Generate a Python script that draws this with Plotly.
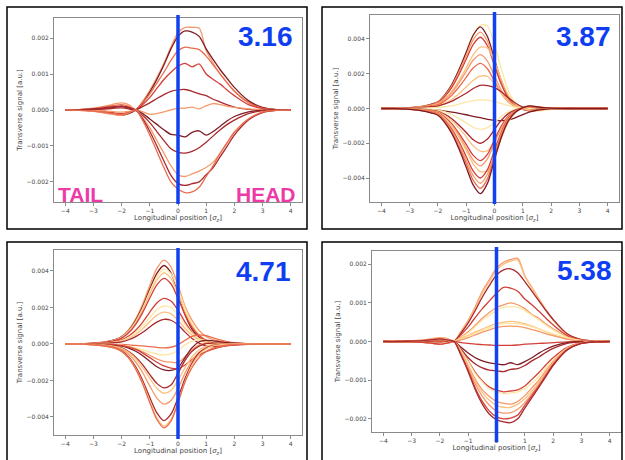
import plotly.graph_objects as go

# Longitudinal positions (sigma_z) at which signals are read
Z = [-4, -3.5, -3, -2.5, -2.25, -2, -1.75, -1.5, -1.25, -1, -0.75, -0.5, -0.25,
     0, 0.25, 0.5, 0.75, 1, 1.25, 1.5, 1.75, 2, 2.5, 3, 3.5, 4]
UNIT = 1e-3  # signal values below are in units of 1e-3 a.u.
LABELS = ["3.16", "3.87", "4.71", "5.38"]
CENTER_Z = 0.0

SIG_316 = [
    [0, 0.01, 0.05, 0.12, 0.17, 0.2, 0.15, 0.02, 0.25, 0.55, 0.9, 1.3, 1.75, 2.15, 2.3, 2.3, 2.28, 1.65, 1.3, 1.0, 0.75, 0.53, 0.22, 0.06, 0.01, 0],
    [0, 0.0, -0.03, -0.08, -0.12, -0.15, -0.1, 0.0, 0.2, 0.5, 0.85, 1.25, 1.7, 2.05, 2.2, 2.17, 2.05, 1.7, 1.4, 1.12, 0.87, 0.63, 0.26, 0.07, 0.01, 0],
    [0, 0.01, 0.04, 0.1, 0.13, 0.15, 0.1, 0.0, 0.2, 0.45, 0.75, 1.05, 1.38, 1.65, 1.75, 1.72, 1.68, 1.5, 1.25, 1.0, 0.75, 0.52, 0.2, 0.05, 0.01, 0],
    [0, 0.0, -0.02, -0.05, -0.08, -0.1, -0.06, 0.0, 0.15, 0.35, 0.6, 0.85, 1.05, 1.22, 1.3, 1.2, 1.28, 1.0, 0.85, 0.72, 0.55, 0.4, 0.15, 0.04, 0.0, 0],
    [0, 0.01, 0.03, 0.07, 0.09, 0.1, 0.06, 0.0, 0.1, 0.2, 0.32, 0.43, 0.52, 0.56, 0.57, 0.52, 0.45, 0.4, 0.3, 0.22, 0.14, 0.08, 0.02, 0.0, 0, 0],
    [0, 0.0, -0.01, -0.03, -0.05, -0.06, -0.04, 0.0, -0.05, -0.12, -0.1, -0.05, 0.0, 0.05, 0.05, 0.08, 0.03, 0.12, 0.18, 0.15, 0.1, 0.07, 0.03, 0.01, 0, 0],
    [0, 0.0, 0.02, 0.05, 0.08, 0.1, 0.06, 0.0, -0.1, -0.25, -0.4, -0.55, -0.68, -0.7, -0.75, -0.62, -0.58, -0.7, -0.6, -0.45, -0.3, -0.18, -0.05, -0.01, 0, 0],
    [0, 0.0, 0.01, 0.03, 0.05, 0.06, 0.03, -0.02, -0.15, -0.35, -0.6, -0.85, -1.08, -1.18, -1.2, -1.15, -1.05, -0.9, -0.72, -0.55, -0.4, -0.28, -0.1, -0.02, 0, 0],
    [0, -0.01, -0.04, -0.1, -0.13, -0.15, -0.08, 0.0, -0.22, -0.5, -0.85, -1.2, -1.55, -1.8, -1.85, -1.78, -1.7, -1.6, -1.45, -1.2, -0.9, -0.62, -0.25, -0.06, -0.01, 0],
    [0, 0.0, 0.02, 0.06, 0.09, 0.11, 0.07, 0.0, -0.25, -0.6, -1.0, -1.42, -1.82, -2.05, -2.1, -2.05, -2.0, -1.8, -1.6, -1.3, -1.0, -0.7, -0.28, -0.07, -0.01, 0],
    [0, -0.01, -0.03, -0.08, -0.11, -0.13, -0.07, 0.0, -0.3, -0.7, -1.15, -1.6, -2.0, -2.2, -2.3, -2.28, -2.15, -1.85, -1.55, -1.2, -0.9, -0.62, -0.25, -0.06, -0.01, 0],
]

SIG_387 = [
    [0, 0.01, 0.05, 0.15, 0.25, 0.39, 0.78, 1.37, 2.21, 3.19, 4.21, 4.8, 4.75, 3.68, 2.21, 0.98, 0.29, 0.0, -0.15, -0.15, -0.1, -0.05, 0, 0, 0, 0],
    [0, 0.01, 0.05, 0.14, 0.24, 0.38, 0.8, 1.41, 2.26, 3.24, 4.23, 4.7, 4.14, 2.82, 1.55, 0.66, 0.19, -0.05, -0.14, -0.09, -0.05, -0.02, 0, 0, 0, 0],
    [0, 0.01, 0.04, 0.13, 0.22, 0.35, 0.75, 1.32, 2.11, 3.04, 3.96, 4.4, 3.87, 2.64, 1.45, 0.62, 0.18, -0.04, -0.13, -0.09, -0.04, -0.02, 0, 0, 0, 0],
    [0, 0.01, 0.04, 0.12, 0.21, 0.33, 0.7, 1.23, 1.97, 2.83, 3.69, 4.1, 3.61, 2.46, 1.35, 0.57, 0.16, -0.04, -0.12, -0.08, -0.04, -0.02, 0, 0, 0, 0],
    [0, 0.01, 0.04, 0.11, 0.18, 0.29, 0.58, 1.01, 1.62, 2.34, 3.1, 3.53, 3.49, 2.7, 1.62, 0.72, 0.22, 0.0, -0.11, -0.11, -0.07, -0.04, 0, 0, 0, 0],
    [0, 0.01, 0.03, 0.09, 0.16, 0.25, 0.53, 0.93, 1.49, 2.14, 2.79, 3.1, 2.73, 1.86, 1.02, 0.43, 0.12, -0.03, -0.09, -0.06, -0.03, -0.02, 0, 0, 0, 0],
    [0, 0.01, 0.03, 0.08, 0.13, 0.21, 0.44, 0.78, 1.25, 1.79, 2.34, 2.6, 2.29, 1.56, 0.86, 0.36, 0.1, -0.03, -0.08, -0.05, -0.03, -0.01, 0, 0, 0, 0],
    [0, 0, 0.02, 0.06, 0.1, 0.15, 0.3, 0.53, 0.86, 1.24, 1.63, 1.86, 1.84, 1.43, 0.86, 0.38, 0.11, 0.0, -0.06, -0.06, -0.04, -0.02, 0, 0, 0, 0],
    [0, 0.01, 0.03, 0.07, 0.1, 0.14, 0.26, 0.42, 0.65, 0.88, 1.15, 1.33, 1.32, 1.2, 0.95, 0.6, 0.3, 0.08, 0.0, -0.02, -0.01, 0, 0, 0, 0, 0],
    [0, 0, 0.01, 0.02, 0.04, 0.06, 0.1, 0.16, 0.25, 0.36, 0.45, 0.5, 0.48, 0.4, 0.28, 0.16, 0.07, 0.02, 0, 0, 0, 0, 0, 0, 0, 0],
    [0, 0, -0.01, -0.04, -0.07, -0.1, -0.15, -0.21, -0.28, -0.36, -0.45, -0.53, -0.62, -0.68, -0.7, -0.65, -0.52, -0.35, -0.2, -0.1, -0.05, -0.02, 0, 0, 0, 0],
    [0, 0, -0.01, -0.04, -0.06, -0.1, -0.2, -0.36, -0.58, -0.83, -1.08, -1.2, -1.1, -0.8, -0.45, -0.18, -0.03, 0.03, 0.03, 0.02, 0.01, 0, 0, 0, 0, 0],
    [0, 0, -0.02, -0.06, -0.1, -0.16, -0.34, -0.6, -0.96, -1.38, -1.8, -2.0, -1.76, -1.2, -0.66, -0.28, -0.08, 0.02, 0.06, 0.04, 0.02, 0.01, 0, 0, 0, 0],
    [0, -0.01, -0.03, -0.08, -0.13, -0.2, -0.4, -0.7, -1.13, -1.63, -2.15, -2.45, -2.43, -1.88, -1.13, -0.5, -0.15, 0.0, 0.08, 0.08, 0.05, 0.03, 0, 0, 0, 0],
    [0, -0.01, -0.03, -0.09, -0.15, -0.24, -0.51, -0.9, -1.44, -2.07, -2.7, -3.0, -2.64, -1.8, -0.99, -0.42, -0.12, 0.03, 0.09, 0.06, 0.03, 0.02, 0, 0, 0, 0],
    [0, -0.01, -0.03, -0.1, -0.17, -0.26, -0.56, -0.99, -1.58, -2.28, -2.97, -3.3, -2.9, -1.98, -1.09, -0.46, -0.13, 0.03, 0.1, 0.07, 0.03, 0.02, 0, 0, 0, 0],
    [0, -0.01, -0.04, -0.11, -0.19, -0.3, -0.59, -1.04, -1.67, -2.41, -3.18, -3.63, -3.59, -2.78, -1.67, -0.74, -0.22, 0.0, 0.11, 0.11, 0.07, 0.04, 0, 0, 0, 0],
    [0, -0.01, -0.04, -0.12, -0.2, -0.32, -0.68, -1.2, -1.92, -2.76, -3.6, -4.0, -3.52, -2.4, -1.32, -0.56, -0.16, 0.04, 0.12, 0.08, 0.04, 0.02, 0, 0, 0, 0],
    [0, -0.01, -0.04, -0.13, -0.22, -0.34, -0.73, -1.29, -2.06, -2.97, -3.87, -4.3, -3.78, -2.58, -1.42, -0.6, -0.17, 0.04, 0.13, 0.09, 0.04, 0.02, 0, 0, 0, 0],
    [0, -0.01, -0.05, -0.14, -0.23, -0.37, -0.78, -1.38, -2.21, -3.17, -4.14, -4.6, -4.05, -2.76, -1.52, -0.64, -0.18, 0.05, 0.14, 0.09, 0.05, 0.02, 0, 0, 0, 0],
    [0, -0.01, -0.05, -0.15, -0.25, -0.39, -0.83, -1.47, -2.35, -3.38, -4.41, -4.9, -4.31, -2.94, -1.62, -0.69, -0.2, 0.05, 0.15, 0.1, 0.05, 0.02, 0, 0, 0, 0],
]

SIG_471 = [
    [0, 0.01, 0.05, 0.14, 0.23, 0.41, 0.78, 1.38, 2.21, 3.22, 4.14, 4.6, 4.23, 3.22, 2.07, 1.29, 0.74, 0.41, 0.23, 0.14, 0.07, 0.04, 0.01, 0, 0, 0],
    [0, 0.01, 0.04, 0.13, 0.22, 0.39, 0.73, 1.29, 2.06, 3.01, 3.87, 4.3, 3.9, 2.8, 1.6, 0.8, 0.35, 0.12, 0.03, 0.0, -0.01, 0, 0, 0, 0, 0],
    [0, 0.01, 0.04, 0.12, 0.2, 0.37, 0.7, 1.23, 1.97, 2.87, 3.69, 4.1, 3.85, 3.0, 1.95, 1.1, 0.5, 0.2, 0.07, 0.02, 0, 0, 0, 0, 0, 0],
    [0, 0.01, 0.04, 0.12, 0.2, 0.35, 0.66, 1.17, 1.87, 2.73, 3.51, 3.9, 3.6, 2.75, 1.75, 1.0, 0.5, 0.22, 0.08, 0.02, 0, 0, 0, 0, 0, 0],
    [0, 0.01, 0.04, 0.11, 0.18, 0.32, 0.61, 1.08, 1.73, 2.52, 3.24, 3.6, 3.3, 2.5, 1.6, 0.9, 0.45, 0.2, 0.08, 0.03, 0.01, 0, 0, 0, 0, 0],
    [0, 0.01, 0.03, 0.08, 0.13, 0.22, 0.43, 0.75, 1.2, 1.75, 2.25, 2.5, 2.35, 1.85, 1.2, 0.65, 0.3, 0.1, 0.02, 0, 0, 0, 0, 0, 0, 0],
    [0, 0, 0.02, 0.06, 0.1, 0.18, 0.36, 0.63, 1.0, 1.45, 1.88, 2.08, 2.0, 1.6, 1.05, 0.6, 0.3, 0.12, 0.04, 0.01, 0, 0, 0, 0, 0, 0],
    [0, 0, 0.02, 0.05, 0.09, 0.15, 0.3, 0.52, 0.84, 1.22, 1.57, 1.74, 1.65, 1.3, 0.85, 0.48, 0.22, 0.08, 0.02, 0, 0, 0, 0, 0, 0, 0],
    [0, 0, 0.01, 0.04, 0.07, 0.12, 0.23, 0.4, 0.64, 0.93, 1.2, 1.35, 1.3, 1.05, 0.65, 0.3, 0.05, -0.1, -0.15, -0.12, -0.08, -0.05, -0.01, 0, 0, 0],
    [0, 0, 0, -0.01, -0.02, -0.03, -0.05, -0.08, -0.11, -0.15, -0.19, -0.22, -0.18, -0.05, 0.2, 0.42, 0.5, 0.45, 0.33, 0.22, 0.13, 0.07, 0.02, 0, 0, 0],
    [0, 0, -0.01, -0.02, -0.04, -0.06, -0.12, -0.2, -0.32, -0.45, -0.55, -0.6, -0.55, -0.35, -0.05, 0.15, 0.22, 0.2, 0.13, 0.08, 0.04, 0.02, 0, 0, 0, 0],
    [0, 0, -0.01, -0.03, -0.05, -0.08, -0.15, -0.27, -0.43, -0.62, -0.82, -0.95, -1.0, -1.02, -0.7, -0.3, -0.05, 0.05, 0.06, 0.04, 0.02, 0.01, 0, 0, 0, 0],
    [0, 0, -0.01, -0.04, -0.07, -0.12, -0.23, -0.4, -0.65, -0.95, -1.25, -1.42, -1.45, -1.3, -0.75, -0.2, 0.12, 0.2, 0.17, 0.12, 0.07, 0.04, 0.01, 0, 0, 0],
    [0, 0, -0.01, -0.03, -0.05, -0.09, -0.17, -0.3, -0.5, -0.75, -1.0, -1.2, -1.32, -1.35, -1.15, -0.85, -0.6, -0.42, -0.28, -0.17, -0.1, -0.06, -0.02, 0, 0, 0],
    [0, -0.01, -0.02, -0.07, -0.12, -0.21, -0.41, -0.72, -1.15, -1.68, -2.16, -2.4, -2.25, -1.6, -0.9, -0.4, -0.12, 0.02, 0.05, 0.04, 0.02, 0.01, 0, 0, 0, 0],
    [0, -0.01, -0.03, -0.08, -0.14, -0.24, -0.46, -0.81, -1.3, -1.89, -2.43, -2.7, -2.55, -2.0, -1.3, -0.7, -0.32, -0.12, -0.03, 0, 0, 0, 0, 0, 0, 0],
    [0, -0.01, -0.03, -0.1, -0.17, -0.3, -0.56, -0.99, -1.58, -2.31, -2.97, -3.3, -3.1, -2.45, -1.6, -0.9, -0.45, -0.2, -0.08, -0.03, -0.01, 0, 0, 0, 0, 0],
    [0, -0.01, -0.04, -0.13, -0.21, -0.38, -0.71, -1.26, -2.02, -2.94, -3.78, -4.2, -3.85, -2.95, -1.9, -1.05, -0.5, -0.22, -0.08, -0.03, -0.01, 0, 0, 0, 0, 0],
    [0, -0.01, -0.05, -0.14, -0.23, -0.41, -0.77, -1.35, -2.16, -3.15, -4.05, -4.5, -4.15, -3.2, -2.05, -1.15, -0.58, -0.27, -0.1, -0.04, -0.01, 0, 0, 0, 0, 0],
    [0, -0.01, -0.05, -0.14, -0.23, -0.41, -0.78, -1.38, -2.21, -3.22, -4.14, -4.6, -4.23, -3.22, -2.07, -1.29, -0.74, -0.41, -0.23, -0.14, -0.07, -0.04, -0.01, 0, 0, 0],
]

SIG_538 = [
    [0, 0.0, 0.02, 0.05, 0.08, 0.1, 0.08, 0.0, 0.27, 0.55, 0.9, 1.3, 1.6, 1.9, 2.05, 2.12, 2.15, 1.7, 1.4, 1.1, 0.82, 0.57, 0.19, 0.05, 0.01, 0],
    [0, 0.0, 0.01, 0.04, 0.06, 0.08, 0.06, 0.0, 0.25, 0.52, 0.85, 1.25, 1.55, 1.85, 2.0, 2.08, 2.1, 1.68, 1.38, 1.08, 0.8, 0.55, 0.18, 0.05, 0.01, 0],
    [0, 0.0, -0.01, -0.03, -0.05, -0.06, -0.04, 0.0, 0.22, 0.48, 0.8, 1.15, 1.45, 1.72, 1.85, 1.88, 1.78, 1.55, 1.3, 1.05, 0.8, 0.57, 0.2, 0.05, 0.01, 0],
    [0, 0.0, 0.01, 0.03, 0.05, 0.06, 0.04, 0.0, 0.18, 0.38, 0.62, 0.85, 1.05, 1.25, 1.4, 1.38, 1.3, 1.1, 0.95, 0.78, 0.6, 0.43, 0.15, 0.04, 0.01, 0],
    [0, 0.0, -0.01, -0.02, -0.04, -0.05, -0.03, 0.0, 0.12, 0.25, 0.42, 0.6, 0.75, 0.88, 0.95, 1.0, 0.95, 0.85, 0.7, 0.6, 0.45, 0.33, 0.12, 0.03, 0.0, 0],
    [0, 0.0, 0.01, 0.03, 0.04, 0.05, 0.03, 0.0, 0.1, 0.22, 0.38, 0.55, 0.68, 0.8, 0.88, 0.9, 0.88, 0.8, 0.68, 0.55, 0.42, 0.3, 0.1, 0.02, 0, 0],
    [0, 0.0, 0.0, 0.01, 0.02, 0.03, 0.02, 0.0, 0.08, 0.16, 0.25, 0.32, 0.4, 0.46, 0.5, 0.52, 0.5, 0.46, 0.4, 0.33, 0.25, 0.18, 0.07, 0.01, 0, 0],
    [0, 0, 0, 0.01, 0.02, 0.02, 0.01, 0.0, 0.06, 0.13, 0.21, 0.28, 0.35, 0.42, 0.46, 0.47, 0.46, 0.43, 0.38, 0.32, 0.26, 0.2, 0.08, 0.02, 0, 0],
    [0, 0, 0, 0, 0.01, 0.01, 0.01, 0.0, 0.04, 0.1, 0.17, 0.24, 0.3, 0.36, 0.39, 0.4, 0.39, 0.36, 0.31, 0.26, 0.2, 0.15, 0.06, 0.01, 0, 0],
    [0, 0, 0, 0, -0.01, -0.01, -0.01, 0, -0.03, -0.05, -0.07, -0.08, -0.09, -0.1, -0.1, -0.1, -0.09, -0.07, -0.06, -0.05, -0.04, -0.03, -0.01, 0, 0, 0],
    [0, 0, 0.01, 0.02, 0.03, 0.04, 0.02, 0.0, -0.15, -0.3, -0.42, -0.5, -0.55, -0.58, -0.6, -0.55, -0.6, -0.52, -0.42, -0.3, -0.2, -0.12, -0.03, 0, 0, 0],
    [0, 0, -0.01, -0.02, -0.03, -0.04, -0.02, 0.0, -0.2, -0.42, -0.58, -0.68, -0.74, -0.76, -0.78, -0.72, -0.7, -0.62, -0.5, -0.4, -0.28, -0.18, -0.05, -0.01, 0, 0],
    [0, 0, 0.01, 0.03, 0.04, 0.05, 0.03, 0.0, -0.22, -0.5, -0.8, -1.02, -1.18, -1.26, -1.3, -1.28, -1.25, -1.15, -0.98, -0.8, -0.6, -0.42, -0.15, -0.03, 0, 0],
    [0, 0, -0.01, -0.03, -0.04, -0.05, -0.03, 0.0, -0.24, -0.52, -0.83, -1.05, -1.22, -1.3, -1.35, -1.33, -1.3, -1.22, -1.08, -0.9, -0.68, -0.48, -0.17, -0.04, 0, 0],
    [0, 0, 0.01, 0.03, 0.05, 0.06, 0.04, 0.0, -0.28, -0.62, -0.98, -1.25, -1.42, -1.55, -1.6, -1.62, -1.55, -1.4, -1.2, -1.0, -0.75, -0.52, -0.18, -0.04, 0, 0],
    [0, 0, -0.01, -0.03, -0.05, -0.06, -0.04, 0.0, -0.3, -0.66, -1.04, -1.32, -1.52, -1.65, -1.7, -1.7, -1.62, -1.48, -1.28, -1.05, -0.8, -0.56, -0.2, -0.05, 0, 0],
    [0, 0, 0.0, 0.02, 0.04, 0.05, 0.03, 0.0, -0.32, -0.7, -1.1, -1.42, -1.65, -1.8, -1.85, -1.84, -1.75, -1.58, -1.35, -1.1, -0.83, -0.58, -0.2, -0.05, 0, 0],
    [0, 0, -0.01, -0.03, -0.05, -0.07, -0.04, 0.0, -0.35, -0.75, -1.2, -1.55, -1.8, -1.95, -2.0, -1.98, -1.9, -1.65, -1.4, -1.15, -0.87, -0.6, -0.21, -0.05, -0.01, 0],
    [0, 0, 0.01, 0.03, 0.05, 0.07, 0.04, 0.0, -0.36, -0.78, -1.25, -1.62, -1.88, -2.02, -2.08, -2.1, -2.0, -1.72, -1.45, -1.18, -0.9, -0.62, -0.22, -0.05, -0.01, 0],
]

# ---- styles ----
PALE, LIGHT, ORANGE, SALMON, RED, DARK, MAROON = (
    "#fde6a2", "#fcc07f", "#f5996a", "#ea6c4d", "#d2403a", "#a8292e", "#7e1c24")
COL_316 = [ORANGE, MAROON, SALMON, RED, DARK, ORANGE, MAROON, DARK, ORANGE, DARK, SALMON]
COL_387 = [PALE, MAROON, ORANGE, RED, LIGHT, ORANGE, SALMON, LIGHT, DARK, PALE,
           MAROON, PALE, DARK, LIGHT, RED, ORANGE, LIGHT, RED, ORANGE, SALMON, MAROON]
COL_471 = [ORANGE, MAROON, PALE, LIGHT, RED, RED, PALE, LIGHT, DARK, SALMON, PALE,
           ORANGE, MAROON, RED, DARK, LIGHT, ORANGE, DARK, LIGHT, SALMON]
COL_538 = [ORANGE, LIGHT, DARK, RED, ORANGE, PALE, LIGHT, PALE, ORANGE, RED,
           MAROON, DARK, RED, PALE, ORANGE, LIGHT, ORANGE, RED, DARK]

W, H = 625, 460


def fx(px):
    return px / W


def fy(py):
    return 1 - py / H


# panel frames in pixels: left, right, top, bottom; y range
PANELS = [
    dict(sig=SIG_316, col=COL_316, box=(54, 302, 18, 202), yr=(-2.56, 2.56), tv=[-2, -1, 0, 1, 2],
         line=(15, 204), lab=(265, 37), border=(7, 307, 7, 229)),
    dict(sig=SIG_387, col=COL_387, box=(370, 619, 15, 202), yr=(-5.38, 5.38), tv=[-4, -2, 0, 2, 4],
         line=(12, 204), lab=(583, 37), border=(322, 622, 7, 229)),
    dict(sig=SIG_471, col=COL_471, box=(54, 302, 250, 435), yr=(-4.99, 5.15), tv=[-4, -2, 0, 2, 4],
         line=(248, 439), lab=(263, 271), border=(7, 307, 242, 470)),
    dict(sig=SIG_538, col=COL_538, box=(372, 621, 251, 432), yr=(-2.34, 2.34), tv=[-2, -1, 0, 1, 2],
         line=(247, 442), lab=(584, 270), border=(322, 622, 242, 470)),
]

fig = go.Figure()
layout = dict(width=W, height=H, margin=dict(l=0, r=0, t=0, b=0),
              paper_bgcolor="white", plot_bgcolor="white", showlegend=False)
shapes, annotations = [], []
tickfont = dict(family="DejaVu Sans", size=6, color="#444444")
titlefont = dict(family="DejaVu Sans", size=7, color="#444444")
XT = [-4, -3, -2, -1, 0, 1, 2, 3, 4]


def fmt(v):
    s = f"{abs(v):.3f}"
    return ("\u2212" + s) if v < 0 else s


for i, p in enumerate(PANELS, start=1):
    xa = "x" if i == 1 else f"x{i}"
    ya = "y" if i == 1 else f"y{i}"
    for ys, c in zip(p["sig"], p["col"]):
        fig.add_trace(go.Scatter(x=Z, y=[v * UNIT for v in ys], mode="lines", xaxis=xa, yaxis=ya,
                                 line=dict(color=c, width=1.3, shape="spline", smoothing=0.8),
                                 hoverinfo="skip"))
    l, r, t, b = p["box"]
    common = dict(showline=True, mirror=True, linecolor="#8a8a8a", linewidth=1, ticks="outside",
                  ticklen=3, tickwidth=1, tickcolor="#8a8a8a", showgrid=False, zeroline=False,
                  tickfont=tickfont)
    layout["xaxis" if i == 1 else f"xaxis{i}"] = dict(
        common, domain=[fx(l), fx(r)], range=[-4.4, 4.4], anchor=ya, tickvals=XT,
        ticktext=[("\u2212" + str(-v)) if v < 0 else str(v) for v in XT],
        title=dict(text="Longitudinal position [<i>σ<sub>z</sub></i>]", standoff=1, font=titlefont))
    tv = [v * UNIT for v in p["tv"]]
    layout["yaxis" if i == 1 else f"yaxis{i}"] = dict(
        common, domain=[fy(b), fy(t)], range=[p["yr"][0] * UNIT, p["yr"][1] * UNIT], anchor=xa,
        tickvals=tv, ticktext=[fmt(v) for v in tv],
        title=dict(text="Transverse signal [a.u.]", standoff=3, font=titlefont))
    # vertical marker at the bunch centre
    shapes.append(dict(type="line", xref=xa, yref="paper", x0=CENTER_Z, x1=CENTER_Z,
                       y0=fy(p["line"][1]), y1=fy(p["line"][0]),
                       line=dict(color="#1040f0", width=3.5)))
    bl, br, bt, bb = p["border"]
    shapes.append(dict(type="rect", xref="paper", yref="paper", x0=fx(bl), x1=fx(br),
                       y0=fy(bb), y1=fy(bt), line=dict(color="black", width=1.5)))
    annotations.append(dict(text=f"<b>{LABELS[i - 1]}</b>", xref="paper", yref="paper",
                            x=fx(p["lab"][0]), y=fy(p["lab"][1]), xanchor="center", yanchor="middle",
                            showarrow=False, font=dict(family="Liberation Sans", size=28, color="#0f3ef2")))

annotations.append(dict(text="<b>TAIL</b>", xref="paper", yref="paper", x=fx(80), y=fy(194),
                        xanchor="center", yanchor="middle", showarrow=False,
                        font=dict(family="Liberation Sans", size=21, color="#ee3aa6")))
annotations.append(dict(text="<b>HEAD</b>", xref="paper", yref="paper", x=fx(266), y=fy(194),
                        xanchor="center", yanchor="middle", showarrow=False,
                        font=dict(family="Liberation Sans", size=21, color="#ee3aa6")))

layout["shapes"] = shapes
layout["annotations"] = annotations
fig.update_layout(**layout)
fig.write_html("out.html", config={"displayModeBar": False}, post_script=(
    "document.body.style.margin='0';document.body.style.padding='0';"
    "document.body.style.overflow='hidden';document.documentElement.style.overflow='hidden';"))
